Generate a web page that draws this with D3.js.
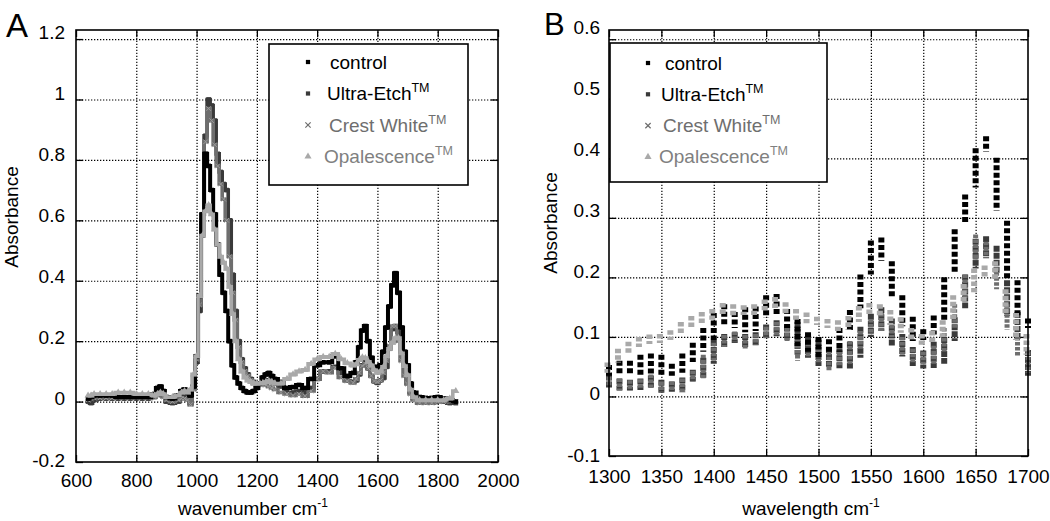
<!DOCTYPE html>
<html>
<head>
<meta charset="utf-8">
<script src="https://cdn.jsdelivr.net/npm/d3@7"></script>
<style>
	body { margin: 0; background: #fff; }
	text { font-family: "Liberation Sans", Arial, sans-serif; }
	.grid line { stroke: #000; stroke-width: 1.2; stroke-dasharray: 1.3, 1.7; }
	.grid path, .ticks path, .labels path { display: none; }
	.ticks line { stroke: #000; stroke-width: 1.3; }
</style>
</head>
<body>
<div id="graphic"></div>
<script>
// ---------- series names ----------
const seriesNames = ['control', 'Ultra-Etch', 'Crest White', 'Opalescence'];

// ---------- tick labels ----------
const xTicksA = [600, 800, 1000, 1200, 1400, 1600, 1800, 2000];
const yTicksA = [-0.2, 0, 0.2, 0.4, 0.6, 0.8, 1, 1.2];
const xTicksB = [1300, 1350, 1400, 1450, 1500, 1550, 1600, 1650, 1700];
const yTicksB = [-0.1, 0, 0.1, 0.2, 0.3, 0.4, 0.5, 0.6];

// ---------- panel A: full spectrum (wavenumber, absorbance) ----------
const waveA = [640, 650, 660, 680, 700, 720, 740, 760, 780, 800,
	820, 840, 860, 870, 880, 890, 900, 920, 940, 950,
	960, 970, 980, 990, 1000, 1010, 1020, 1030, 1040, 1050,
	1060, 1070, 1080, 1090, 1100, 1110, 1120, 1130, 1140, 1150,
	1160, 1170, 1180, 1190, 1200, 1210, 1220, 1230, 1240, 1250,
	1260, 1280, 1300, 1320, 1340, 1360, 1380, 1400, 1420, 1440,
	1460, 1480, 1500, 1520, 1530, 1540, 1550, 1560, 1570, 1580,
	1590, 1600, 1610, 1620, 1630, 1640, 1650, 1660, 1670, 1680,
	1690, 1700, 1710, 1720, 1740, 1760, 1780, 1800, 1820, 1840,
	1860];

const controlA = [0.01, 0.015, 0.02, 0.02, 0.02, 0.02, 0.015, 0.015, 0.015, 0.015,
	0.015, 0.015, 0.025, 0.045, 0.05, 0.035, 0.015, 0.01, 0.02, 0.035,
	0.04, 0.03, 0.02, 0.05, 0.15, 0.35, 0.62, 0.82, 0.78, 0.70,
	0.62, 0.52, 0.42, 0.36, 0.30, 0.20, 0.12, 0.08, 0.06, 0.045,
	0.035, 0.03, 0.03, 0.035, 0.045, 0.06, 0.08, 0.09, 0.095, 0.085,
	0.075, 0.065, 0.045, 0.048, 0.055, 0.045, 0.075, 0.12, 0.13, 0.13,
	0.15, 0.11, 0.085, 0.095, 0.13, 0.18, 0.235, 0.25, 0.20, 0.145,
	0.115, 0.105, 0.12, 0.165, 0.245, 0.315, 0.385, 0.425, 0.36, 0.245,
	0.165, 0.12, 0.06, 0.03, 0.015, 0.012, 0.012, 0.015, 0.01, 0.005,
	0.0];

const ultraA = [0.0, -0.005, 0.005, 0.01, 0.01, 0.01, 0.01, 0.01, 0.01, 0.01,
	0.01, 0.01, 0.015, 0.03, 0.04, 0.02, 0.0, -0.005, 0.0, 0.01,
	0.02, 0.01, -0.005, 0.05, 0.13, 0.30, 0.55, 0.88, 1.0, 0.98,
	0.93, 0.82, 0.76, 0.72, 0.70, 0.60, 0.42, 0.30, 0.20, 0.14,
	0.11, 0.09, 0.075, 0.065, 0.06, 0.06, 0.065, 0.07, 0.07, 0.065,
	0.06, 0.05, 0.03, 0.03, 0.035, 0.03, 0.045, 0.075, 0.10, 0.10,
	0.115, 0.095, 0.07, 0.065, 0.07, 0.09, 0.12, 0.13, 0.11, 0.085,
	0.067, 0.062, 0.07, 0.078, 0.115, 0.175, 0.24, 0.25, 0.23, 0.165,
	0.12, 0.06, 0.03, 0.01, 0.0, 0.0, 0.0, 0.0, 0.0, -0.005,
	-0.005];

const crestA = [0.005, 0.01, 0.012, 0.012, 0.012, 0.012, 0.012, 0.012, 0.012, 0.012,
	0.012, 0.012, 0.015, 0.02, 0.025, 0.015, 0.005, 0.0, 0.005, 0.01,
	0.01, 0.005, -0.01, 0.04, 0.14, 0.32, 0.60, 0.86, 0.97, 0.93,
	0.85, 0.78, 0.72, 0.67, 0.60, 0.48, 0.36, 0.27, 0.18, 0.13,
	0.10, 0.085, 0.07, 0.06, 0.055, 0.055, 0.055, 0.055, 0.05, 0.045,
	0.04, 0.03, 0.025, 0.02, 0.025, 0.018, 0.035, 0.075, 0.10, 0.096,
	0.112, 0.08, 0.068, 0.062, 0.075, 0.095, 0.118, 0.125, 0.11, 0.085,
	0.068, 0.065, 0.07, 0.095, 0.135, 0.185, 0.25, 0.25, 0.20, 0.135,
	0.085, 0.058, 0.025, 0.005, -0.005, -0.005, -0.005, 0.0, 0.0, 0.0,
	0.0];

const opalA = [0.02, 0.02, 0.025, 0.025, 0.025, 0.025, 0.03, 0.03, 0.03, 0.025,
	0.025, 0.025, 0.02, 0.025, 0.03, 0.025, 0.015, 0.015, 0.02, 0.03,
	0.035, 0.03, 0.04, 0.09, 0.15, 0.35, 0.55, 0.63, 0.65, 0.62,
	0.57, 0.52, 0.48, 0.46, 0.44, 0.38, 0.29, 0.20, 0.14, 0.10,
	0.08, 0.07, 0.065, 0.06, 0.06, 0.06, 0.062, 0.065, 0.068, 0.065,
	0.06, 0.06, 0.075, 0.09, 0.10, 0.105, 0.125, 0.14, 0.148, 0.148,
	0.158, 0.14, 0.127, 0.12, 0.124, 0.138, 0.146, 0.144, 0.132, 0.12,
	0.104, 0.096, 0.10, 0.115, 0.15, 0.175, 0.195, 0.21, 0.21, 0.16,
	0.118, 0.088, 0.04, 0.015, 0.005, 0.005, 0.005, 0.005, 0.005, 0.01,
	0.035];

// ---------- panel B: 1300-1700 zoom, spread of replicate values (low / high) ----------
const waveB = [1300, 1310, 1320, 1330, 1340, 1350, 1360, 1370, 1380, 1390,
	1400, 1410, 1420, 1430, 1440, 1450, 1460, 1470, 1480, 1490,
	1500, 1510, 1520, 1530, 1540, 1550, 1560, 1570, 1580, 1590,
	1600, 1610, 1620, 1630, 1640, 1650, 1660, 1670, 1680, 1690,
	1700];

const controlLoB = [0.040, 0.040, 0.040, 0.040, 0.042, 0.040, 0.040, 0.045, 0.063, 0.080,
	0.100, 0.123, 0.120, 0.113, 0.115, 0.137, 0.140, 0.120, 0.090, 0.080,
	0.070, 0.080, 0.080, 0.115, 0.153, 0.210, 0.233, 0.170, 0.123, 0.098,
	0.100, 0.109, 0.134, 0.212, 0.295, 0.356, 0.416, 0.317, 0.200, 0.139,
	0.120];
const controlHiB = [0.048, 0.055, 0.055, 0.065, 0.067, 0.065, 0.050, 0.067, 0.085, 0.110,
	0.135, 0.150, 0.137, 0.145, 0.146, 0.165, 0.167, 0.142, 0.125, 0.103,
	0.095, 0.091, 0.110, 0.140, 0.200, 0.257, 0.262, 0.222, 0.165, 0.129,
	0.108, 0.131, 0.195, 0.276, 0.334, 0.412, 0.432, 0.396, 0.290, 0.190,
	0.126];

const ultraLoB = [0.020, 0.015, 0.015, 0.016, 0.020, 0.010, 0.013, 0.012, 0.030, 0.035,
	0.060, 0.088, 0.095, 0.087, 0.090, 0.103, 0.106, 0.100, 0.075, 0.070,
	0.056, 0.055, 0.052, 0.052, 0.070, 0.105, 0.115, 0.090, 0.072, 0.056,
	0.052, 0.053, 0.060, 0.098, 0.153, 0.220, 0.237, 0.212, 0.140, 0.100,
	0.040];
const ultraHiB = [0.032, 0.025, 0.023, 0.025, 0.030, 0.023, 0.020, 0.027, 0.040, 0.060,
	0.090, 0.100, 0.103, 0.100, 0.103, 0.116, 0.123, 0.114, 0.120, 0.100,
	0.090, 0.078, 0.076, 0.087, 0.112, 0.134, 0.145, 0.126, 0.100, 0.078,
	0.072, 0.087, 0.095, 0.128, 0.200, 0.260, 0.264, 0.248, 0.190, 0.137,
	0.073];

const crestLoB = [0.022, 0.015, 0.015, 0.017, 0.017, 0.012, 0.013, 0.012, 0.030, 0.033,
	0.065, 0.088, 0.096, 0.083, 0.092, 0.103, 0.108, 0.098, 0.065, 0.070,
	0.060, 0.047, 0.055, 0.060, 0.085, 0.110, 0.115, 0.105, 0.075, 0.060,
	0.060, 0.060, 0.080, 0.120, 0.170, 0.234, 0.240, 0.185, 0.117, 0.073,
	0.045];
const crestHiB = [0.028, 0.025, 0.022, 0.024, 0.032, 0.020, 0.020, 0.025, 0.038, 0.065,
	0.085, 0.098, 0.104, 0.098, 0.100, 0.112, 0.120, 0.110, 0.090, 0.085,
	0.075, 0.070, 0.070, 0.088, 0.105, 0.125, 0.135, 0.115, 0.095, 0.075,
	0.070, 0.080, 0.110, 0.150, 0.200, 0.267, 0.255, 0.212, 0.150, 0.095,
	0.070];

const opalLoB = [0.045, 0.062, 0.075, 0.088, 0.093, 0.095, 0.100, 0.110, 0.120, 0.128,
	0.134, 0.142, 0.141, 0.142, 0.142, 0.150, 0.153, 0.145, 0.134, 0.128,
	0.125, 0.120, 0.115, 0.117, 0.130, 0.140, 0.138, 0.125, 0.112, 0.098,
	0.092, 0.095, 0.105, 0.135, 0.165, 0.180, 0.203, 0.200, 0.145, 0.100,
	0.075];
const opalHiB = [0.052, 0.075, 0.087, 0.095, 0.099, 0.100, 0.106, 0.120, 0.130, 0.137,
	0.142, 0.152, 0.150, 0.148, 0.150, 0.158, 0.162, 0.153, 0.142, 0.136,
	0.129, 0.125, 0.123, 0.130, 0.147, 0.152, 0.150, 0.140, 0.128, 0.110,
	0.100, 0.105, 0.123, 0.165, 0.184, 0.210, 0.215, 0.222, 0.175, 0.135,
	0.100];

// ---------- styles ----------
const lineColours = ['#000000', '#3a3a3a', '#6e6e6e', '#a9a9a9'];
const textColours = ['#000000', '#000000', '#6e6e6e', '#808080'];
const symbols = [d3.symbolSquare, d3.symbolSquare, d3.symbolTimes, d3.symbolTriangle];
const legendTM = [false, true, true, true];

const svg = d3.select('#graphic')
	.append('svg')
	.attr('width', 1050)
	.attr('height', 521);

// draws dotted grid, inward ticks and labels for one panel
function drawFrame(g, x, y, yLab, w, h, o) {
	// grid
	g.append('g').attr('class', 'grid')
		.attr('transform', `translate(0,${h})`)
		.call(d3.axisBottom(x).tickValues(o.xTicks.slice(1, -1)).tickSize(-h).tickFormat(''));
	g.append('g').attr('class', 'grid')
		.call(d3.axisLeft(y).tickValues(o.yTicks.slice(1)).tickSize(-w).tickFormat(''));

	// inward ticks on all four sides
	g.append('g').attr('class', 'ticks').attr('transform', `translate(0,${h})`)
		.call(d3.axisBottom(x).tickValues(o.xTicks).tickSize(-7).tickFormat(''));
	g.append('g').attr('class', 'ticks')
		.call(d3.axisTop(x).tickValues(o.xTicks).tickSize(-7).tickFormat(''));
	g.append('g').attr('class', 'ticks')
		.call(d3.axisLeft(y).tickValues(o.yTicks).tickSize(-7).tickFormat(''));
	g.append('g').attr('class', 'ticks').attr('transform', `translate(${w},0)`)
		.call(d3.axisRight(y).tickValues(o.yTicks).tickSize(-7).tickFormat(''));

	// tick labels
	g.append('g').attr('class', 'labels').attr('transform', `translate(0,${h})`)
		.call(d3.axisBottom(x).tickValues(o.xTicks).tickSize(0).tickPadding(o.xPad).tickFormat((d) => String(d)))
		.call((s) => s.selectAll('text').attr('font-size', 19).attr('fill', '#000')
			.style('font-family', '"Liberation Sans", Arial, sans-serif'));
	g.append('g').attr('class', 'labels')
		.call(d3.axisLeft(yLab).tickValues(o.yTicks).tickSize(0).tickPadding(o.yPad).tickFormat((d) => String(d)))
		.call((s) => s.selectAll('text').attr('font-size', 19).attr('fill', '#000')
			.style('font-family', '"Liberation Sans", Arial, sans-serif'));
}

function drawLegend(g, box) {
	g.append('rect')
		.attr('x', box.x).attr('y', box.y)
		.attr('width', box.w).attr('height', box.h)
		.attr('fill', '#fff').attr('stroke', '#000').attr('stroke-width', 1.6);

	seriesNames.forEach((name, i) => {
		const cy = box.y + box.row0 + i * box.step;
		const sym = d3.symbol().type(symbols[i]).size(i === 3 ? 22 : (i === 2 ? 20 : 18));
		g.append('path')
			.attr('d', sym())
			.attr('transform', `translate(${box.mx},${cy})`)
			.attr('fill', i === 2 ? 'none' : lineColours[i])
			.attr('stroke', i === 2 ? lineColours[i] : 'none')
			.attr('stroke-width', 1.2);
		const t = g.append('text')
			.attr('x', box.tx + box.txOff[i])
			.attr('y', cy + 6.5)
			.attr('font-size', 19)
			.attr('fill', textColours[i])
			.text(name);
		if (legendTM[i]) {
			t.append('tspan').attr('dy', -8).attr('font-size', 12.5).text('TM');
		}
	});
}

// ================= Panel A =================
{
	const left = 76, top = 30, w = 422, h = 432;
	const g = svg.append('g').attr('transform', `translate(${left},${top})`);
	const x = d3.scaleLinear().domain([600, 2000]).range([0, w]);
	const y = d3.scaleLinear().domain([-0.2, 1.23]).range([h, 0]);
	// labels in the source sit slightly off their grid lines
	const yLab = d3.scaleLinear().domain([-0.2, 1.2]).range([h - 2, 2]);

	drawFrame(g, x, y, yLab, w, h, { xTicks: xTicksA, yTicks: yTicksA, xPad: 12, yPad: 11 });

	const seriesA = [controlA, ultraA, crestA, opalA];
	const order = [1, 2, 0, 3];
	order.forEach((k) => {
		const pts = waveA.map((wv, i) => [wv, seriesA[k][i]]);
		const line = d3.line()
			.x((d) => x(d[0]))
			.y((d) => y(d[1]))
			.curve(d3.curveStep);
		g.append('path')
			.datum(pts)
			.attr('fill', 'none')
			.attr('stroke', lineColours[k])
			.attr('stroke-width', k === 0 ? 4 : 3.6)
			.attr('stroke-linejoin', 'miter')
			.attr('d', line);
		const sym = d3.symbol().type(symbols[k]).size(k === 2 ? 16 : 22);
		g.selectAll(null)
			.data(pts)
			.join('path')
			.attr('d', sym())
			.attr('transform', (d) => `translate(${x(d[0])},${y(d[1])})`)
			.attr('fill', k === 2 ? 'none' : lineColours[k])
			.attr('stroke', k === 2 ? '#9a9a9a' : 'none')
			.attr('stroke-width', 1);
	});

	drawLegend(g, { x: 269 - left, y: 44 - top, w: 199, h: 141, row0: 18, step: 31.5, mx: 308 - left, tx: 327 - left, txOff: [3, 0, 2, -3] });

	// axis titles and panel letter
	g.append('text')
		.attr('transform', `translate(${18 - left},${217 - top}) rotate(-90)`)
		.attr('text-anchor', 'middle').attr('font-size', 19).text('Absorbance');
	const xt = g.append('text')
		.attr('x', 253 - left).attr('y', 515 - top)
		.attr('text-anchor', 'middle').attr('font-size', 19).text('wavenumber cm');
	xt.append('tspan').attr('dy', -8).attr('font-size', 12).text('-1');
	g.append('text')
		.attr('x', 6 - left).attr('y', 37 - top)
		.attr('font-size', 33).text('A');

	g.append('rect')
		.attr('width', w).attr('height', h)
		.attr('fill', 'none').attr('stroke', '#000').attr('stroke-width', 1.6);
}

// ================= Panel B =================
{
	const left = 609, top = 30, w = 419, h = 426;
	const g = svg.append('g').attr('transform', `translate(${left},${top})`);
	const x = d3.scaleLinear().domain([1300, 1700]).range([0, w]);
	const y = d3.scaleLinear().domain([-0.1, 0.6155]).range([h, 0]);
	const yLab = d3.scaleLinear().domain([-0.1, 0.6]).range([h - 1, -3]);

	drawFrame(g, x, y, yLab, w, h, { xTicks: xTicksB, yTicks: yTicksB, xPad: 14, yPad: 9 });

	const lowB = [controlLoB, ultraLoB, crestLoB, opalLoB];
	const highB = [controlHiB, ultraHiB, crestHiB, opalHiB];
	const widths = [6, 6, 5, 6];
	const offsets = [0, 0, 0, -1.5];
	const dashes = ['5,2.5', '6,1', '3.5,1.5', '4.5,2'];
	[1, 2, 0, 3].forEach((k) => {
		const cols = waveB.map((wv, i) => ({ x: wv, lo: lowB[k][i], hi: highB[k][i] }));
		g.selectAll(null)
			.data(cols)
			.join('line')
			.attr('x1', (d) => x(d.x) + offsets[k])
			.attr('x2', (d) => x(d.x) + offsets[k])
			.attr('y1', (d) => y(d.hi) - 3)
			.attr('y2', (d) => y(d.lo) + 3)
			.attr('stroke', lineColours[k])
			.attr('stroke-width', widths[k])
			.attr('stroke-dasharray', dashes[k]);
	});

	drawLegend(g, { x: 610 - left, y: 43 - top, w: 217, h: 139, row0: 20, step: 31.3, mx: 648 - left, tx: 661 - left, txOff: [4, 0, 2, -2] });

	g.append('text')
		.attr('transform', `translate(${557 - left},${223 - top}) rotate(-90)`)
		.attr('text-anchor', 'middle').attr('font-size', 19).text('Absorbance');
	const xt = g.append('text')
		.attr('x', 811 - left).attr('y', 515 - top)
		.attr('text-anchor', 'middle').attr('font-size', 19).text('wavelength cm');
	xt.append('tspan').attr('dy', -8).attr('font-size', 12).text('-1');
	g.append('text')
		.attr('x', 544 - left).attr('y', 35 - top)
		.attr('font-size', 31).text('B');

	g.append('rect')
		.attr('width', w).attr('height', h)
		.attr('fill', 'none').attr('stroke', '#000').attr('stroke-width', 1.6);
}
</script>
</body>
</html>
